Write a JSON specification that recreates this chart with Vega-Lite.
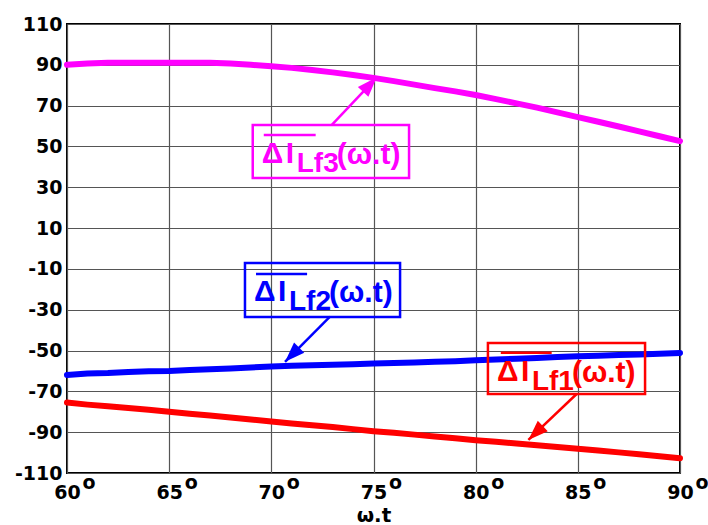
{
  "$schema": "https://vega.github.io/schema/vega-lite/v6.json",
  "width": 613,
  "height": 449,
  "autosize": "none",
  "padding": {"left": 67, "top": 24, "right": 28, "bottom": 52},
  "background": "white",
  "config": {
    "view": {"stroke": "black", "strokeWidth": 2},
    "axis": {
      "domain": false,
      "ticks": false,
      "tickSize": 0,
      "grid": true,
      "gridColor": "#555555",
      "gridWidth": 1.2,
      "gridOpacity": 1,
      "labelFont": "DejaVu Sans",
      "labelFontWeight": "bold",
      "labelFontSize": 19,
      "labelColor": "black",
      "labelFlush": false,
      "labelOverlap": false,
      "titleFont": "DejaVu Sans",
      "titleFontWeight": "bold",
      "titleFontSize": 20,
      "titleColor": "black"
    }
  },
  "datasets": {
    "curves": [
      {"t": 60, "series": "Lf3", "v": 90}, {"t": 61, "series": "Lf3", "v": 90.6}, {"t": 62, "series": "Lf3", "v": 91}, {"t": 63, "series": "Lf3", "v": 91}, {"t": 64, "series": "Lf3", "v": 91}, {"t": 65, "series": "Lf3", "v": 91}, {"t": 66, "series": "Lf3", "v": 91}, {"t": 67, "series": "Lf3", "v": 91}, {"t": 68, "series": "Lf3", "v": 90.6}, {"t": 69, "series": "Lf3", "v": 90}, {"t": 70, "series": "Lf3", "v": 89.3}, {"t": 71, "series": "Lf3", "v": 88.5}, {"t": 72, "series": "Lf3", "v": 87.5}, {"t": 73, "series": "Lf3", "v": 86.3}, {"t": 74, "series": "Lf3", "v": 85}, {"t": 75, "series": "Lf3", "v": 83.6}, {"t": 76, "series": "Lf3", "v": 82}, {"t": 77, "series": "Lf3", "v": 80.3}, {"t": 78, "series": "Lf3", "v": 78.6}, {"t": 79, "series": "Lf3", "v": 77}, {"t": 80, "series": "Lf3", "v": 75.2}, {"t": 81, "series": "Lf3", "v": 73.2}, {"t": 82, "series": "Lf3", "v": 71.1}, {"t": 83, "series": "Lf3", "v": 69}, {"t": 84, "series": "Lf3", "v": 66.7}, {"t": 85, "series": "Lf3", "v": 64.4}, {"t": 86, "series": "Lf3", "v": 62.1}, {"t": 87, "series": "Lf3", "v": 59.8}, {"t": 88, "series": "Lf3", "v": 57.4}, {"t": 89, "series": "Lf3", "v": 55}, {"t": 90, "series": "Lf3", "v": 52.6},
      {"t": 60, "series": "Lf2", "v": -62}, {"t": 61, "series": "Lf2", "v": -61.2}, {"t": 62, "series": "Lf2", "v": -61}, {"t": 63, "series": "Lf2", "v": -60.5}, {"t": 64, "series": "Lf2", "v": -60.2}, {"t": 65, "series": "Lf2", "v": -60}, {"t": 66, "series": "Lf2", "v": -59.5}, {"t": 67, "series": "Lf2", "v": -59.2}, {"t": 68, "series": "Lf2", "v": -58.8}, {"t": 69, "series": "Lf2", "v": -58.3}, {"t": 70, "series": "Lf2", "v": -57.8}, {"t": 71, "series": "Lf2", "v": -57.5}, {"t": 72, "series": "Lf2", "v": -57.2}, {"t": 73, "series": "Lf2", "v": -57}, {"t": 74, "series": "Lf2", "v": -56.7}, {"t": 75, "series": "Lf2", "v": -56.4}, {"t": 76, "series": "Lf2", "v": -56.1}, {"t": 77, "series": "Lf2", "v": -55.8}, {"t": 78, "series": "Lf2", "v": -55.5}, {"t": 79, "series": "Lf2", "v": -55.2}, {"t": 80, "series": "Lf2", "v": -54.8}, {"t": 81, "series": "Lf2", "v": -54.4}, {"t": 82, "series": "Lf2", "v": -54}, {"t": 83, "series": "Lf2", "v": -53.6}, {"t": 84, "series": "Lf2", "v": -53.2}, {"t": 85, "series": "Lf2", "v": -52.8}, {"t": 86, "series": "Lf2", "v": -52.5}, {"t": 87, "series": "Lf2", "v": -52.2}, {"t": 88, "series": "Lf2", "v": -51.9}, {"t": 89, "series": "Lf2", "v": -51.6}, {"t": 90, "series": "Lf2", "v": -51.2},
      {"t": 60, "series": "Lf1", "v": -75.5}, {"t": 61, "series": "Lf1", "v": -76.5}, {"t": 62, "series": "Lf1", "v": -77.3}, {"t": 63, "series": "Lf1", "v": -78.2}, {"t": 64, "series": "Lf1", "v": -79}, {"t": 65, "series": "Lf1", "v": -80}, {"t": 66, "series": "Lf1", "v": -81}, {"t": 67, "series": "Lf1", "v": -81.8}, {"t": 68, "series": "Lf1", "v": -82.8}, {"t": 69, "series": "Lf1", "v": -83.8}, {"t": 70, "series": "Lf1", "v": -84.8}, {"t": 71, "series": "Lf1", "v": -85.7}, {"t": 72, "series": "Lf1", "v": -86.6}, {"t": 73, "series": "Lf1", "v": -87.5}, {"t": 74, "series": "Lf1", "v": -88.5}, {"t": 75, "series": "Lf1", "v": -89.5}, {"t": 76, "series": "Lf1", "v": -90.3}, {"t": 77, "series": "Lf1", "v": -91.2}, {"t": 78, "series": "Lf1", "v": -92.1}, {"t": 79, "series": "Lf1", "v": -93}, {"t": 80, "series": "Lf1", "v": -93.9}, {"t": 81, "series": "Lf1", "v": -94.7}, {"t": 82, "series": "Lf1", "v": -95.6}, {"t": 83, "series": "Lf1", "v": -96.4}, {"t": 84, "series": "Lf1", "v": -97.3}, {"t": 85, "series": "Lf1", "v": -98.1}, {"t": 86, "series": "Lf1", "v": -99}, {"t": 87, "series": "Lf1", "v": -99.9}, {"t": 88, "series": "Lf1", "v": -100.8}, {"t": 89, "series": "Lf1", "v": -101.8}, {"t": 90, "series": "Lf1", "v": -102.8}
    ],
    "notes": [
      {"series": "Lf3", "bx1": 69.09, "bx2": 76.74, "by1": 60.5, "by2": 34.5, "ox1": 69.63, "ox2": 72.17, "oy": 55.6, "ax1": 72.95, "ay1": 60.5, "ax2": 75.16, "ay2": 83.9},
      {"series": "Lf2", "bx1": 68.71, "bx2": 76.3, "by1": -7.1, "by2": -33.56, "ox1": 69.25, "ox2": 71.75, "oy": -12.5, "ax1": 72.87, "ay1": -33.4, "ax2": 70.67, "ay2": -55.5},
      {"series": "Lf1", "bx1": 80.6, "bx2": 88.29, "by1": -46.3, "by2": -71.3, "ox1": 81.23, "ox2": 83.72, "oy": -51.1, "ax1": 84.94, "ay1": -71.3, "ax2": 82.58, "ay2": -93.8}
    ],
    "xticks": [{"t": 60}, {"t": 65}, {"t": 70}, {"t": 75}, {"t": 80}, {"t": 85}, {"t": 90}]
  },
  "layer": [
    {
      "data": {"name": "curves"},
      "mark": {"type": "line", "strokeWidth": 6, "strokeCap": "round", "strokeJoin": "round"},
      "encoding": {
        "x": {
          "field": "t", "type": "quantitative", "title": "ω.t",
          "scale": {"domain": [60, 90], "nice": false, "zero": false},
          "axis": {"values": [60, 65, 70, 75, 80, 85, 90], "labelPadding": 10, "labelExpr": "'' + datum.value", "titleY": 48, "titleBaseline": "alphabetic"}
        },
        "y": {
          "field": "v", "type": "quantitative", "title": null,
          "scale": {"domain": [-110, 110], "nice": false, "zero": false},
          "axis": {"values": [-110, -90, -70, -50, -30, -10, 10, 30, 50, 70, 90, 110], "labelPadding": 5, "labelExpr": "'' + datum.value"}
        },
        "color": {
          "field": "series", "type": "nominal",
          "scale": {"domain": ["Lf1", "Lf2", "Lf3"], "range": ["#ff0000", "#0000ff", "#ff00ff"]},
          "legend": null
        }
      }
    },
    {
      "data": {"name": "xticks"},
      "mark": {"type": "text", "text": "o", "font": "DejaVu Sans", "fontWeight": "bold", "fontSize": 19, "align": "center", "baseline": "alphabetic", "dx": 22, "dy": 16, "color": "black"},
      "encoding": {
        "x": {"field": "t", "type": "quantitative", "title": "ω.t"},
        "y": {"datum": -110, "type": "quantitative", "title": null}
      }
    },
    {
      "data": {"name": "notes"},
      "mark": {"type": "rect", "filled": false, "strokeWidth": 2.5},
      "encoding": {
        "x": {"field": "bx1", "type": "quantitative", "title": "ω.t"},
        "x2": {"field": "bx2"},
        "y": {"field": "by1", "type": "quantitative", "title": null},
        "y2": {"field": "by2"},
        "color": {"field": "series", "type": "nominal", "legend": null}
      }
    },
    {
      "data": {"name": "notes"},
      "mark": {"type": "rule", "strokeWidth": 2.5},
      "encoding": {
        "x": {"field": "ox1", "type": "quantitative", "title": "ω.t"},
        "x2": {"field": "ox2"},
        "y": {"field": "oy", "type": "quantitative", "title": null},
        "color": {"field": "series", "type": "nominal", "legend": null}
      }
    },
    {
      "data": {"name": "notes"},
      "mark": {"type": "text", "text": "Δ", "font": "Liberation Sans", "fontWeight": "bold", "fontSize": 30, "align": "left", "baseline": "alphabetic", "dx": 9, "dy": 38},
      "encoding": {
        "x": {"field": "bx1", "type": "quantitative", "title": "ω.t"},
        "y": {"field": "by1", "type": "quantitative", "title": null},
        "color": {"field": "series", "type": "nominal", "legend": null}
      }
    },
    {
      "data": {"name": "notes"},
      "mark": {"type": "text", "text": "I", "font": "Liberation Sans", "fontWeight": "bold", "fontSize": 30, "align": "left", "baseline": "alphabetic", "dx": 33, "dy": 38},
      "encoding": {
        "x": {"field": "bx1", "type": "quantitative", "title": "ω.t"},
        "y": {"field": "by1", "type": "quantitative", "title": null},
        "color": {"field": "series", "type": "nominal", "legend": null}
      }
    },
    {
      "data": {"name": "notes"},
      "mark": {"type": "text", "font": "Liberation Sans", "fontWeight": "bold", "fontSize": 28, "align": "left", "baseline": "alphabetic", "dx": 44, "dy": 47},
      "encoding": {
        "x": {"field": "bx1", "type": "quantitative", "title": "ω.t"},
        "y": {"field": "by1", "type": "quantitative", "title": null},
        "text": {"field": "series"},
        "color": {"field": "series", "type": "nominal", "legend": null}
      }
    },
    {
      "data": {"name": "notes"},
      "mark": {"type": "text", "text": "(ω.t)", "font": "Liberation Sans", "fontWeight": "bold", "fontSize": 30, "align": "left", "baseline": "alphabetic", "dx": 84, "dy": 39},
      "encoding": {
        "x": {"field": "bx1", "type": "quantitative", "title": "ω.t"},
        "y": {"field": "by1", "type": "quantitative", "title": null},
        "color": {"field": "series", "type": "nominal", "legend": null}
      }
    },
    {
      "data": {"name": "notes"},
      "mark": {"type": "rule", "strokeWidth": 2.5},
      "encoding": {
        "x": {"field": "ax1", "type": "quantitative", "title": "ω.t"},
        "y": {"field": "ay1", "type": "quantitative", "title": null},
        "x2": {"field": "ax2"},
        "y2": {"field": "ay2"},
        "color": {"field": "series", "type": "nominal", "legend": null}
      }
    },
    {
      "data": {"name": "notes"},
      "transform": [{"filter": "datum.series === 'Lf3'"}],
      "mark": {"type": "point", "shape": "M0,0L0.36,1L-0.36,1Z", "filled": true, "size": 1600, "opacity": 1, "strokeWidth": 0, "angle": 43},
      "encoding": {
        "x": {"field": "ax2", "type": "quantitative", "title": "ω.t"},
        "y": {"field": "ay2", "type": "quantitative", "title": null},
        "color": {"field": "series", "type": "nominal", "legend": null}
      }
    },
    {
      "data": {"name": "notes"},
      "transform": [{"filter": "datum.series === 'Lf2'"}],
      "mark": {"type": "point", "shape": "M0,0L0.36,1L-0.36,1Z", "filled": true, "size": 1600, "opacity": 1, "strokeWidth": 0, "angle": 225},
      "encoding": {
        "x": {"field": "ax2", "type": "quantitative", "title": "ω.t"},
        "y": {"field": "ay2", "type": "quantitative", "title": null},
        "color": {"field": "series", "type": "nominal", "legend": null}
      }
    },
    {
      "data": {"name": "notes"},
      "transform": [{"filter": "datum.series === 'Lf1'"}],
      "mark": {"type": "point", "shape": "M0,0L0.36,1L-0.36,1Z", "filled": true, "size": 1600, "opacity": 1, "strokeWidth": 0, "angle": 226},
      "encoding": {
        "x": {"field": "ax2", "type": "quantitative", "title": "ω.t"},
        "y": {"field": "ay2", "type": "quantitative", "title": null},
        "color": {"field": "series", "type": "nominal", "legend": null}
      }
    }
  ]
}
